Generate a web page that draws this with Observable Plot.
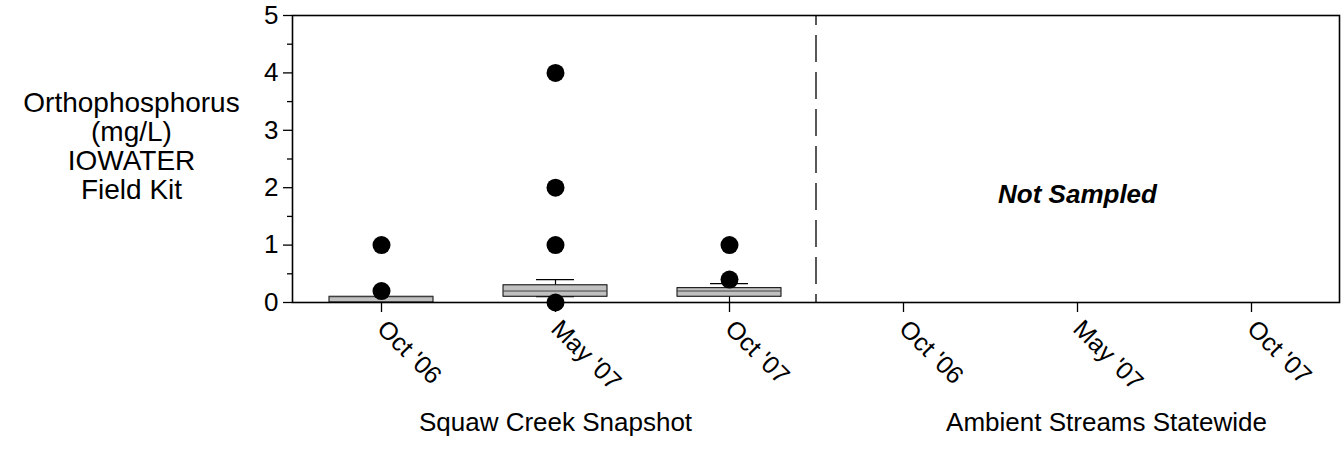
<!DOCTYPE html>
<html><head>
<meta charset="utf-8">
<script src="https://cdn.jsdelivr.net/npm/d3@7"></script>
<script src="https://cdn.jsdelivr.net/npm/@observablehq/plot@0.6"></script>
<style>body{margin:0;background:#fff}</style>
</head><body><div id="chart"></div>
<script>
// ---- data ----
const groups = ["Squaw Creek Snapshot", "Ambient Streams Statewide"];
const dates = ["Oct '06", "May '07", "Oct '07"];
const yTicks = [0, 1, 2, 3, 4, 5];
const yMinorTicks = [0.5, 1.5, 2.5, 3.5, 4.5];
const yTitle = "Orthophosphorus\n(mg/L)\nIOWATER\nField Kit";
const note = "Not Sampled";

// box statistics (Squaw Creek Snapshot only)
const boxDates   = ["Oct '06", "May '07", "Oct '07"];
const q1         = [0.0, 0.1, 0.1];
const median     = [0.1, 0.2, 0.2];
const q3         = [0.1, 0.3, 0.25];
const whiskerLow = [0.0, 0.1, 0.0];
const whiskerHigh= [0.1, 0.4, 0.33];

// outliers
const outlierDates = ["Oct '06", "Oct '06", "May '07", "May '07", "May '07", "May '07", "Oct '07", "Oct '07"];
const outlierVals  = [1, 0.2, 4, 2, 1, 0, 1, 0.4];

// ---- build tables ----
const key = (g, d) => g + "|" + d;
const xDomain = groups.flatMap(g => dates.map(d => key(g, d)));
const boxes = boxDates.map((d, i) => ({
  x: key(groups[0], d), q1: q1[i], median: median[i], q3: q3[i], lo: whiskerLow[i], hi: whiskerHigh[i]
}));
const outliers = outlierDates.map((d, i) => ({x: key(groups[0], d), y: outlierVals[i]}));
const groupLabels = groups.map(g => ({x: key(g, dates[1]), label: g}));

function divider(index, scales, values, dims) {
  const x = scales.x(key(groups[1], dates[0]));
  return d3.create("svg:line")
    .attr("x1", x).attr("x2", x)
    .attr("y1", dims.marginTop).attr("y2", dims.height - dims.marginBottom)
    .attr("stroke", "black").attr("stroke-width", 1.3)
    .attr("stroke-dasharray", "27,10").attr("stroke-dashoffset", -20)
    .node();
}

const chart = Plot.plot({
  width: 1341,
  height: 452,
  marginLeft: 292,
  marginRight: 2,
  marginTop: 15,
  marginBottom: 150,
  style: {fontFamily: "'Liberation Sans', Arial, sans-serif", fontSize: "24px", color: "black", background: "white"},
  x: {type: "band", domain: xDomain, padding: 0},
  y: {domain: [0, 5]},
  marks: [
    divider,
    Plot.ruleX(boxes, {x: "x", y1: "q3", y2: "hi", stroke: "black", strokeWidth: 1.2}),
    Plot.ruleX(boxes, {x: "x", y1: "lo", y2: "q1", stroke: "black", strokeWidth: 1.2}),
    Plot.tickY(boxes, {x: "x", y: "hi", stroke: "black", strokeWidth: 1.2, insetLeft: 68, insetRight: 68}),
    Plot.tickY(boxes, {x: "x", y: "lo", stroke: "black", strokeWidth: 1.2, insetLeft: 68, insetRight: 68}),
    Plot.barY(boxes, {x: "x", y1: "q1", y2: "q3", fill: "#c0c0c0", stroke: "black", strokeWidth: 1, insetLeft: 35, insetRight: 35}),
    Plot.tickY(boxes, {x: "x", y: "median", stroke: "#444", strokeWidth: 1, insetLeft: 35, insetRight: 35}),
    Plot.dot(outliers, {x: "x", y: "y", r: 9, fill: "black", stroke: "none"}),
    Plot.text([note], {x: () => key(groups[1], dates[1]), frameAnchor: "middle", dy: 36, fontSize: 26, fontWeight: "bold", fontStyle: "italic", fill: "black"}),
    Plot.text(groupLabels.slice(0, 1), {x: "x", text: "label", frameAnchor: "bottom", dy: 128, fontSize: 26, fill: "black"}),
    Plot.text(groupLabels.slice(1), {x: "x", text: "label", frameAnchor: "bottom", dy: 128, dx: 29, fontSize: 26, fill: "black"}),
    Plot.text([yTitle], {frameAnchor: "left", dx: -161, dy: -13, textAnchor: "middle", fontSize: 28, lineHeight: 1.04, fill: "black"}),
    Plot.axisY({ticks: yTicks, tickSize: 9, tickPadding: 5, fontSize: 26, label: null, tickFormat: d => String(d), strokeWidth: 1.3}),
    Plot.axisY({ticks: yMinorTicks, tickSize: 5, tickFormat: () => "", label: null, strokeWidth: 1.3}),
    Plot.axisX({tickRotate: 45, tickSize: 10, tickPadding: 12, fontSize: 25, label: null, tickFormat: k => k.split("|")[1], strokeWidth: 1.3}),
    Plot.frame({stroke: "black", strokeWidth: 1.6})
  ]
});
document.getElementById("chart").append(chart);
</script>
</body></html>
